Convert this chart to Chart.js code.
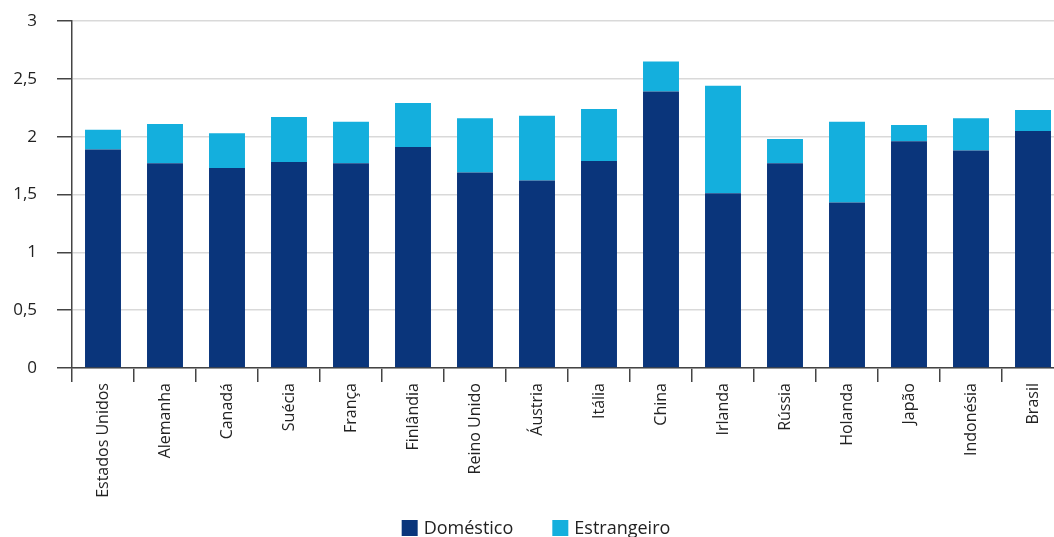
<!DOCTYPE html>
<html>
<head>
<meta charset="utf-8">
<script src="https://cdn.jsdelivr.net/npm/chart.js"></script>
<style>
  html, body { margin: 0; padding: 0; background: #fff; overflow: hidden; }
  #wrap { width: 1064px; height: 537px; }
</style>
</head>
<body>
<div id="wrap"><canvas id="chart" width="1064" height="537"></canvas></div>
<script>
const countries = ["Estados Unidos", "Alemanha", "Canadá", "Suécia", "França", "Finlândia", "Reino Unido", "Áustria",
  "Itália", "China", "Irlanda", "Rússia", "Holanda", "Japão", "Indonésia", "Brasil"];
const domestico = [1.89, 1.77, 1.73, 1.78, 1.77, 1.91, 1.69, 1.62, 1.79, 2.39, 1.51, 1.77, 1.43, 1.96, 1.88, 2.05];
const estrangeiro = [0.17, 0.34, 0.30, 0.39, 0.36, 0.38, 0.47, 0.56, 0.45, 0.26, 0.93, 0.21, 0.70, 0.14, 0.28, 0.18];
const yTicks = [0, 0.5, 1, 1.5, 2, 2.5, 3];

const font = "'Open Sans', 'Noto Sans', sans-serif";

// legend drawn under the axis labels, spaced like the original
const bottomLegend = {
  id: "bottomLegend",
  afterDraw(chart) {
    const ctx = chart.ctx;
    const box = 16, gap = 39, textGap = 6;
    ctx.save();
    ctx.font = "18px " + font;
    const items = chart.data.datasets.map(d => ({
      text: d.label,
      color: d.backgroundColor,
      w: box + textGap + ctx.measureText(d.label).width
    }));
    const total = items.reduce((a, it) => a + it.w, 0) + gap * (items.length - 1);
    let x = 536 - total / 2;
    const y = 520;
    ctx.textBaseline = "middle";
    items.forEach(it => {
      ctx.fillStyle = it.color;
      ctx.fillRect(x, y, box, box);
      ctx.fillStyle = "#222";
      ctx.fillText(it.text, x + box + textGap, y + box / 2 + 1);
      x += it.w + gap;
    });
    ctx.restore();
  }
};

new Chart(document.getElementById("chart").getContext("2d"), {
  type: "bar",
  data: {
    labels: countries,
    datasets: [
      { label: "Doméstico", data: domestico, backgroundColor: "#0a357b" },
      { label: "Estrangeiro", data: estrangeiro, backgroundColor: "#14afdd" }
    ]
  },
  plugins: [bottomLegend],
  options: {
    responsive: false,
    animation: false,
    layout: { padding: { top: 21, left: 0, right: 0, bottom: 0 } },
    datasets: { bar: { categoryPercentage: 1, barPercentage: 0.58 } },
    plugins: {
      tooltip: { enabled: false },
      legend: { display: false }
    },
    scales: {
      x: {
        stacked: true,
        grid: { drawOnChartArea: false, tickLength: 14, tickColor: "#444", lineWidth: 1.5 },
        border: { color: "#444", width: 1.5 },
        ticks: {
          minRotation: 90, maxRotation: 90, padding: 1,
          color: "#222", font: { family: font, size: 16 }
        },
        afterFit: s => { s.height = 169; s.paddingTop = 0; }
      },
      y: {
        stacked: true,
        min: 0, max: 3,
        afterBuildTicks: s => { s.ticks = yTicks.map(v => ({ value: v })); },
        grid: { color: "#d9d9d9", lineWidth: 1.5, tickLength: 15, tickColor: "#444" },
        border: { color: "#444", width: 1.5 },
        ticks: {
          padding: 20, color: "#222", font: { family: font, size: 17 },
          callback: v => String(v).replace(".", ",")
        },
        afterFit: s => { s.width = 72; s.paddingTop = 0; s.paddingBottom = 0; }
      }
    }
  }
});
</script>
</body>
</html>
